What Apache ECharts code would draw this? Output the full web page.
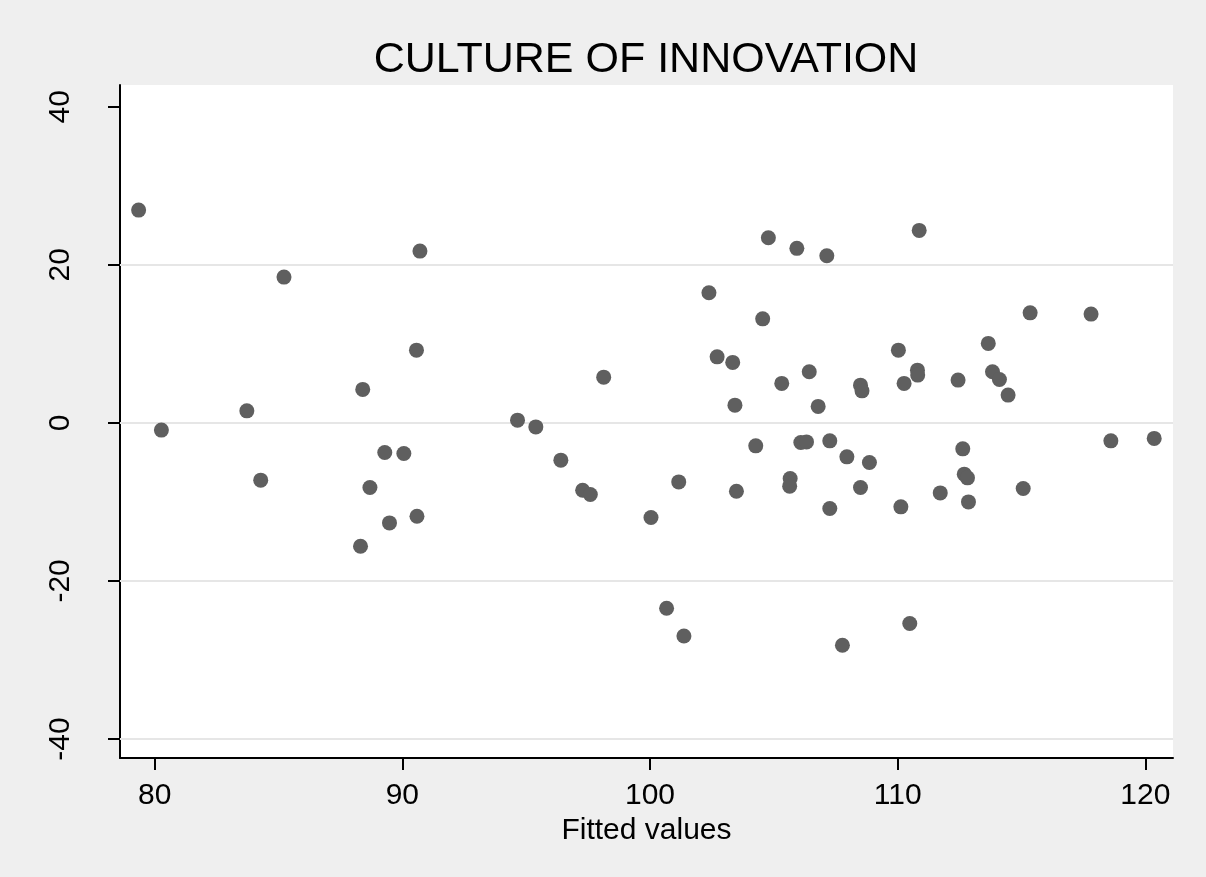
<!DOCTYPE html>
<html>
<head>
<meta charset="utf-8">
<title>Culture of innovation: residuals vs fitted values</title>
<script src="https://cdn.jsdelivr.net/npm/echarts@6/dist/echarts.min.js"></script>
<style>
  html, body { margin: 0; padding: 0; background: #efefef; }
  #chart { width: 1206px; height: 877px; }
</style>
</head>
<body>
<div id="chart"></div>
<script>
// Fitted values (x) and residuals (y), one entry per observation
const fittedValues = [
  79.35, 80.27, 83.72, 84.28, 85.22, 88.40, 88.31, 88.69, 89.29, 89.48,
  90.06, 90.57, 90.59, 90.71, 94.65, 95.39, 96.40, 97.28, 97.59, 98.13,
  100.04, 100.67, 101.37, 101.16, 102.38, 102.71, 103.34, 103.43, 103.49, 104.27,
  104.55, 104.78, 105.32, 105.66, 105.64, 105.93, 106.09, 106.32, 106.43, 106.79,
  107.14, 107.26, 107.26, 107.95, 107.77, 108.50, 108.86, 108.50, 108.56, 110.03,
  110.26, 110.80, 110.81, 110.87, 110.13, 110.49, 111.72, 112.44, 112.63, 112.69,
  112.82, 112.86, 113.66, 113.83, 114.11, 114.46, 115.07, 115.35, 117.81, 118.61,
  120.36
];
const residuals = [
  26.92, -0.92, 1.52, -7.25, 18.44, 4.23, -15.61, -8.18, -3.75, -12.66,
  -3.87, 9.20, -11.81, 21.73, 0.34, -0.51, -4.72, -8.52, -9.06, 5.78,
  -11.97, -23.46, -26.96, -7.47, 16.46, 8.35, 7.65, 2.24, -8.65, -2.91,
  13.16, 23.42, 4.99, -7.04, -8.01, 22.08, -2.48, -2.41, 6.46, 2.08,
  21.14, -2.28, -10.84, -4.30, -28.14, -8.18, -5.01, 4.77, 4.05, 9.20,
  4.99, 6.67, 6.04, 24.35, -10.63, -25.39, -8.86, 5.41, -3.29, -6.49,
  -6.96, -10.00, 10.05, 6.46, 5.49, 3.51, -8.30, 13.92, 13.76, -2.28,
  -1.97
];

const titleText = 'CULTURE OF INNOVATION';
const xAxisTitle = 'Fitted values';
const xTicks = [80, 90, 100, 110, 120];
const yTicks = [-40, -20, 0, 20, 40];
const yGridLines = [-40, -20, 0, 20];

const points = fittedValues.map((x, i) => [x, residuals[i]]);

const FONT = '"Liberation Sans", Arial, Helvetica, sans-serif';
const chart = echarts.init(document.getElementById('chart'), null, { renderer: 'canvas' });

chart.setOption({
  backgroundColor: '#efefef',
  animation: false,
  graphic: [{
    type: 'text',
    x: 646,
    y: 39,
    style: {
      text: titleText,
      fontFamily: FONT,
      fontSize: 43,
      fill: '#000',
      align: 'center',
      verticalAlign: 'top'
    }
  }],
  grid: {
    left: 120,
    top: 85,
    width: 1053,
    height: 673,
    show: true,
    backgroundColor: '#ffffff',
    borderWidth: 0
  },
  xAxis: {
    type: 'value',
    min: 78.598,
    max: 121.119,
    name: xAxisTitle,
    nameLocation: 'middle',
    nameGap: 51,
    nameTextStyle: { fontFamily: FONT, fontSize: 30, color: '#000' },
    axisLine: { show: true, onZero: false, lineStyle: { color: '#000', width: 2 } },
    axisTick: { show: true, length: 12, customValues: xTicks, lineStyle: { color: '#000', width: 2 } },
    axisLabel: { customValues: xTicks, margin: 23, fontFamily: FONT, fontSize: 30, color: '#000' },
    splitLine: { show: false }
  },
  yAxis: {
    type: 'value',
    min: -42.405,
    max: 42.747,
    axisLine: { show: true, onZero: false, lineStyle: { color: '#000', width: 2 } },
    axisTick: { show: true, length: 12, customValues: yTicks, lineStyle: { color: '#000', width: 2 } },
    axisLabel: { customValues: yTicks, rotate: 90, margin: 44, fontFamily: FONT, fontSize: 30, color: '#000' },
    splitLine: { show: false }
  },
  series: [{
    type: 'scatter',
    data: points,
    symbol: 'circle',
    symbolSize: 15,
    itemStyle: { color: '#5f5f5f', opacity: 1 },
    z: 3,
    markLine: {
      silent: true,
      symbol: ['none', 'none'],
      label: { show: false },
      lineStyle: { color: '#e6e6e6', width: 2, type: 'solid', opacity: 1 },
      data: yGridLines.map(v => ({ yAxis: v })),
      z: 1
    }
  }]
});
</script>
</body>
</html>
